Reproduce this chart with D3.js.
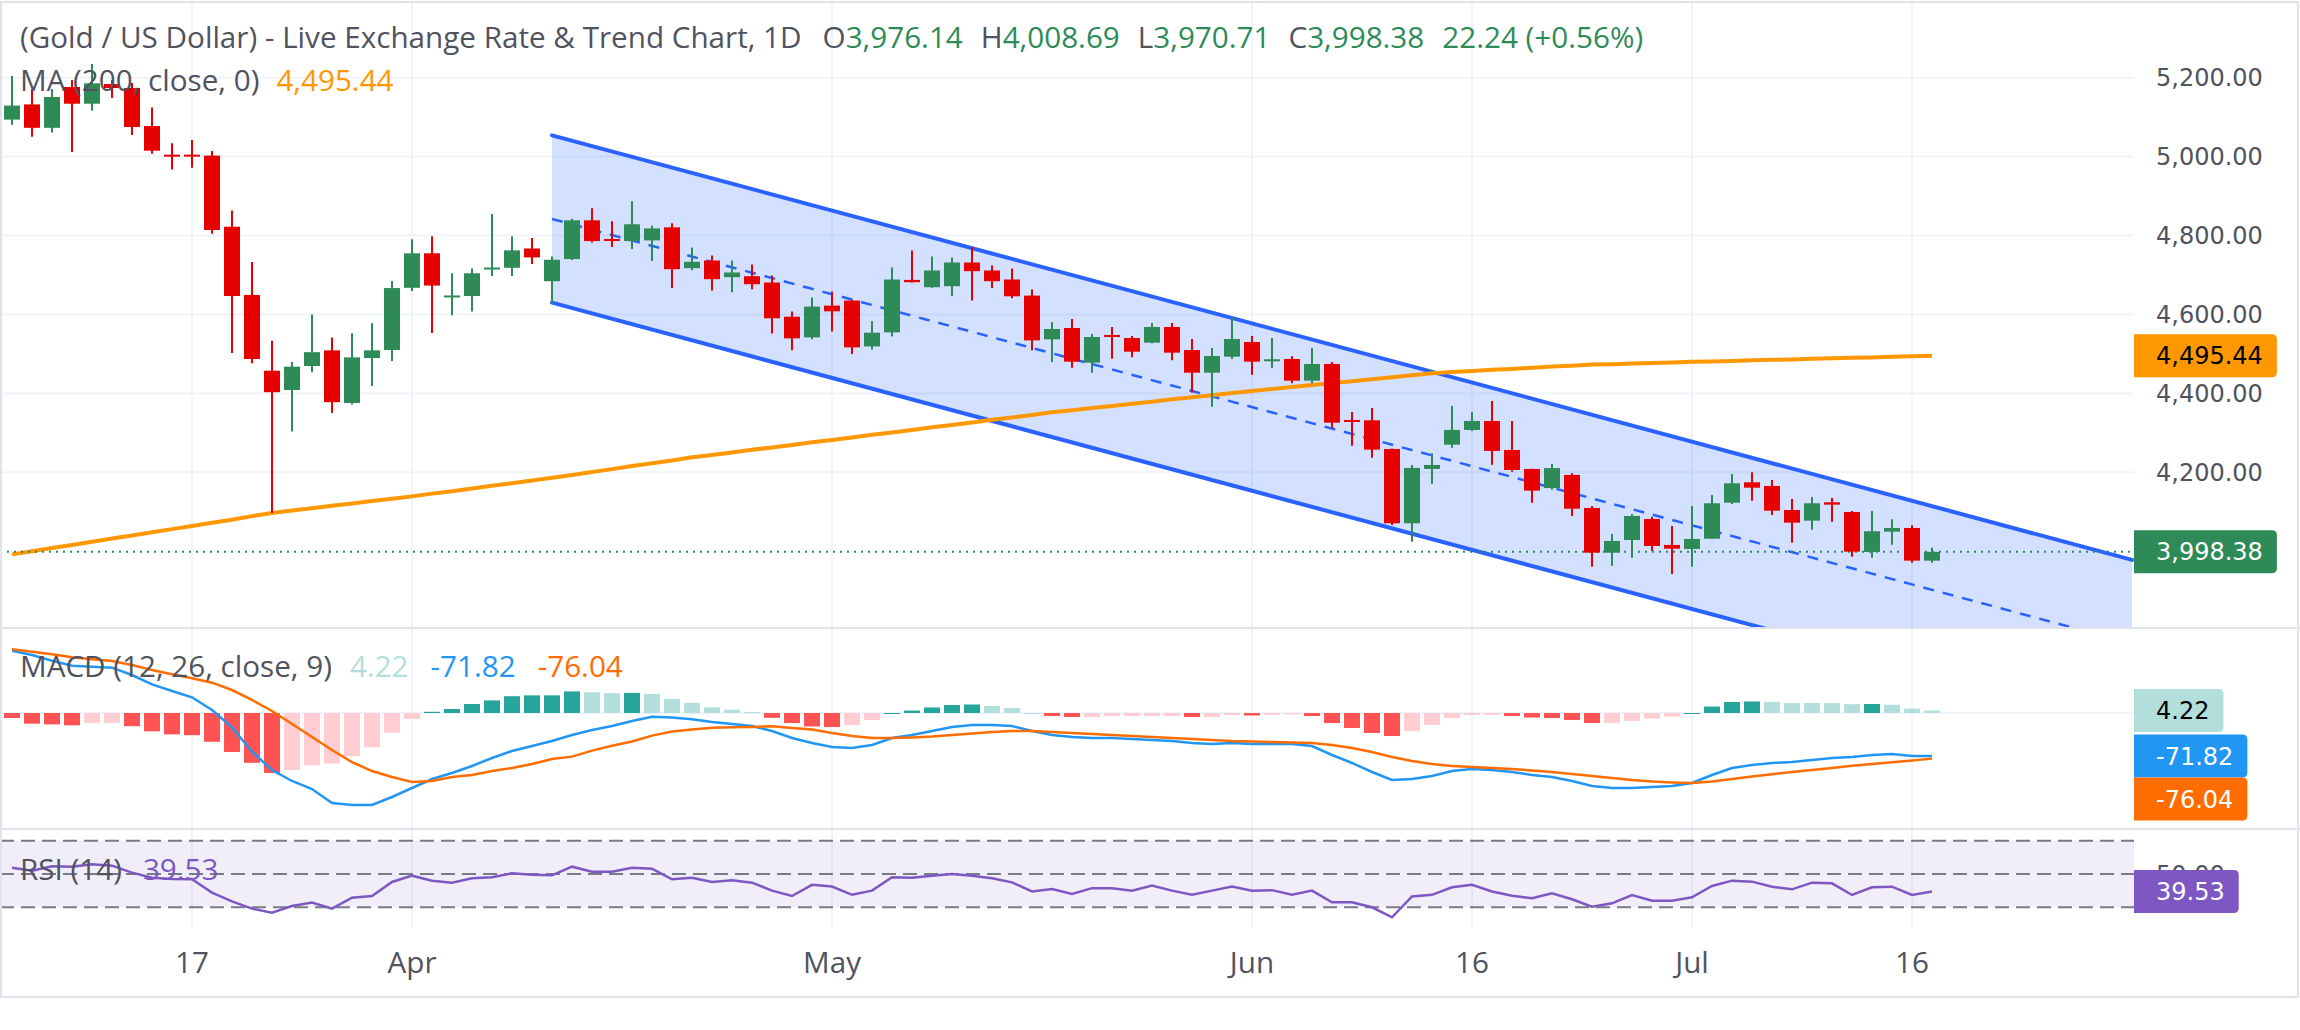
<!DOCTYPE html>
<html lang="en">
<head>
<meta charset="UTF-8">
<title>Gold / US Dollar - Daily</title>
<style>
  body { margin: 0; background: #fff; }
  svg { display: block; }
  .legend { font-family: "Open Sans", sans-serif; fill: #50535e; }
  .axis-label { font-family: "DejaVu Sans", sans-serif; font-size: 24px; fill: #50535e; }
  .time-label { font-family: "Open Sans", sans-serif; fill: #50535e; }
</style>
</head>
<body>
<svg id="chart"></svg>
<script src="https://cdn.jsdelivr.net/npm/d3@7"></script>
<script>
// ---- data ----
const dates = [
  "2026-03-04","2026-03-05","2026-03-06","2026-03-09","2026-03-10","2026-03-11","2026-03-12","2026-03-13","2026-03-16","2026-03-17",
  "2026-03-18","2026-03-19","2026-03-20","2026-03-23","2026-03-24","2026-03-25","2026-03-26","2026-03-27","2026-03-30","2026-03-31",
  "2026-04-01","2026-04-02","2026-04-06","2026-04-07","2026-04-08","2026-04-09","2026-04-10","2026-04-13","2026-04-14","2026-04-15",
  "2026-04-16","2026-04-17","2026-04-20","2026-04-21","2026-04-22","2026-04-23","2026-04-24","2026-04-27","2026-04-28","2026-04-29",
  "2026-04-30","2026-05-01","2026-05-04","2026-05-05","2026-05-06","2026-05-07","2026-05-08","2026-05-11","2026-05-12","2026-05-13",
  "2026-05-14","2026-05-15","2026-05-18","2026-05-19","2026-05-20","2026-05-21","2026-05-22","2026-05-25","2026-05-26","2026-05-27",
  "2026-05-28","2026-05-29","2026-06-01","2026-06-02","2026-06-03","2026-06-04","2026-06-05","2026-06-08","2026-06-09","2026-06-10",
  "2026-06-11","2026-06-12","2026-06-15","2026-06-16","2026-06-17","2026-06-18","2026-06-19","2026-06-22","2026-06-23","2026-06-24",
  "2026-06-25","2026-06-26","2026-06-29","2026-06-30","2026-07-01","2026-07-02","2026-07-03","2026-07-06","2026-07-07","2026-07-08",
  "2026-07-09","2026-07-10","2026-07-13","2026-07-14","2026-07-15","2026-07-16","2026-07-17"
];
const open = [
  5093.8, 5132.3, 5073.0, 5176.4, 5134.1, 5184.0, 5173.9, 5077.6, 5005.0, 5005.0,
  5002.6, 4822.4, 4649.4, 4457.5, 4408.6, 4469.5, 4509.0, 4375.7, 4489.5, 4510.0,
  4667.6, 4755.0, 4645.6, 4646.8, 4715.3, 4718.3, 4767.2, 4684.3, 4740.3, 4838.6,
  4791.3, 4785.9, 4787.7, 4820.7, 4717.3, 4736.8, 4694.5, 4697.0, 4681.0, 4594.3,
  4541.9, 4622.5, 4635.2, 4519.1, 4554.6, 4687.6, 4669.1, 4671.7, 4731.7, 4711.4,
  4688.6, 4647.8, 4536.9, 4565.7, 4477.8, 4548.0, 4540.4, 4528.5, 4568.3, 4510.0,
  4452.5, 4493.0, 4530.3, 4482.9, 4487.2, 4432.2, 4474.5, 4332.6, 4331.8, 4259.1,
  4070.8, 4208.5, 4270.0, 4307.3, 4330.1, 4256.6, 4208.5, 4160.0, 4193.3, 4109.6,
  3996.3, 4028.5, 4081.7, 4015.9, 4005.7, 4031.8, 4123.0, 4174.7, 4165.4, 4104.5,
  4077.5, 4124.0, 4099.5, 3998.1, 4049.6, 4058.9, 3976.14
];
const high = [
  5204.6, 5171.4, 5171.4, 5194.2, 5234.7, 5194.2, 5186.6, 5124.7, 5033.8, 5042.1,
  5014.3, 4863.7, 4733.0, 4533.6, 4479.8, 4600.2, 4541.9, 4552.3, 4577.6, 4684.8,
  4790.5, 4798.1, 4704.4, 4716.5, 4854.6, 4798.1, 4793.8, 4746.9, 4842.7, 4869.1,
  4836.1, 4886.8, 4825.0, 4831.1, 4770.0, 4749.5, 4736.8, 4726.6, 4698.8, 4607.3,
  4642.8, 4658.0, 4637.0, 4583.5, 4719.0, 4762.4, 4746.9, 4744.4, 4770.7, 4724.0,
  4716.5, 4663.0, 4581.0, 4588.5, 4550.5, 4568.3, 4545.5, 4578.4, 4578.4, 4537.9,
  4515.1, 4594.4, 4545.5, 4540.4, 4494.0, 4515.1, 4479.6, 4352.9, 4363.0, 4260.0,
  4218.6, 4248.3, 4368.0, 4352.9, 4380.8, 4330.1, 4209.0, 4221.0, 4197.5, 4114.7,
  4043.7, 4094.4, 4087.6, 4064.0, 4114.7, 4142.6, 4195.8, 4200.1, 4180.6, 4132.4,
  4137.5, 4135.0, 4102.0, 4102.0, 4081.0, 4065.8, 4008.69
];
const low = [
  5080.7, 5050.5, 5060.9, 5012.0, 5117.1, 5148.6, 5054.8, 5007.4, 4967.1, 4971.7,
  4804.7, 4502.4, 4476.3, 4097.0, 4303.5, 4453.8, 4350.4, 4372.1, 4418.8, 4482.1,
  4659.5, 4553.0, 4598.2, 4607.6, 4697.5, 4697.5, 4727.9, 4628.3, 4738.0, 4782.6,
  4770.7, 4765.7, 4735.3, 4666.8, 4712.2, 4660.7, 4656.6, 4664.0, 4552.0, 4509.0,
  4536.9, 4557.0, 4499.6, 4511.5, 4544.4, 4681.0, 4668.0, 4646.1, 4635.2, 4666.8,
  4641.0, 4509.0, 4479.3, 4465.0, 4452.5, 4488.0, 4491.5, 4527.0, 4483.9, 4401.8,
  4366.3, 4487.2, 4447.4, 4463.6, 4425.6, 4425.6, 4311.6, 4267.5, 4237.1, 4066.5,
  4024.0, 4171.2, 4262.4, 4304.7, 4219.3, 4201.6, 4123.0, 4155.7, 4089.4, 3960.9,
  3963.4, 3983.7, 4000.6, 3942.4, 3960.9, 4031.0, 4119.8, 4128.1, 4091.9, 4021.7,
  4054.6, 4075.0, 3986.0, 3983.7, 4016.6, 3971.0, 3970.71
];
const close = [
  5129.3, 5073.0, 5151.1, 5134.1, 5185.8, 5173.9, 5075.1, 5015.0, 5003.0, 5002.0,
  4814.1, 4646.8, 4487.2, 4403.0, 4467.7, 4504.4, 4377.7, 4491.2, 4509.0, 4666.9,
  4755.0, 4673.2, 4648.1, 4704.4, 4719.0, 4762.4, 4744.6, 4738.6, 4838.6, 4785.9,
  4788.7, 4828.5, 4818.1, 4714.7, 4733.5, 4689.4, 4706.4, 4676.7, 4590.3, 4539.4,
  4620.0, 4608.0, 4516.6, 4553.8, 4688.6, 4681.8, 4711.4, 4731.7, 4709.7, 4684.3,
  4646.1, 4534.3, 4563.2, 4480.3, 4542.9, 4545.0, 4505.7, 4568.3, 4503.2, 4452.5,
  4494.8, 4537.9, 4480.3, 4486.4, 4432.2, 4474.5, 4325.8, 4330.0, 4257.4, 4070.8,
  4211.0, 4218.6, 4307.3, 4330.1, 4254.1, 4205.9, 4153.5, 4210.7, 4107.8, 3996.3,
  4026.0, 4089.3, 4013.3, 4006.4, 4031.1, 4121.5, 4172.2, 4161.0, 4102.8, 4072.4,
  4121.5, 4118.0, 3998.9, 4050.6, 4058.9, 3976.14, 3998.38
];
const ma200 = [
  3992, 4000, 4008, 4016, 4024, 4032, 4040, 4048, 4056, 4064,
  4072, 4080, 4089, 4097, 4103, 4109, 4115, 4121, 4127, 4133,
  4139, 4146, 4152, 4159, 4166, 4172, 4179, 4186, 4193, 4201,
  4208, 4216, 4223, 4230, 4238, 4244, 4250, 4257, 4263, 4269,
  4276, 4282, 4288, 4295, 4301, 4307, 4314, 4320, 4326, 4333,
  4339, 4345, 4352, 4357, 4363, 4368, 4374, 4379, 4385, 4390,
  4395, 4401, 4406, 4411, 4416, 4421, 4426, 4431, 4436, 4441,
  4446, 4451, 4454, 4457, 4460, 4462, 4465, 4468, 4470, 4473,
  4474, 4476, 4477, 4478, 4480, 4481, 4482, 4484, 4485, 4486,
  4488, 4489, 4490, 4491, 4493, 4494, 4495.44
];
const macdLine = [
  103.8, 96.7, 87.2, 78.8, 77.2, 75.5, 63.3, 47.8, 36.7, 26.2,
  5.0, -24.0, -64.5, -95.0, -113.3, -126.7, -150.0, -153.3, -153.3, -140.0,
  -125.0, -110.0, -100.0, -88.3, -75.0, -63.3, -55.0, -46.7, -36.7, -28.3,
  -21.7, -13.3, -6.2, -7.5, -10.5, -15.0, -18.3, -21.7, -30.0, -41.7,
  -50.0, -56.7, -58.3, -53.3, -41.7, -36.7, -30.0, -23.3, -20.0, -20.0,
  -21.7, -30.0, -36.7, -40.0, -41.7, -41.7, -43.3, -45.0, -46.7, -50.0,
  -51.7, -50.0, -51.7, -51.7, -51.7, -55.0, -70.0, -83.3, -98.3, -111.7,
  -110.0, -105.0, -96.7, -93.3, -95.0, -98.3, -103.3, -106.7, -113.3, -121.7,
  -125.0, -125.0, -123.3, -121.7, -116.7, -103.3, -91.7, -86.7, -83.3, -81.7,
  -78.3, -75.0, -73.3, -70.0, -68.3, -71.7, -71.82
];
const signalLine = [
  106.2, 102.2, 97.8, 92.8, 89.5, 86.7, 80.0, 71.7, 64.5, 57.8,
  50.5, 38.3, 21.7, 3.3, -18.3, -40.0, -61.7, -81.7, -96.7, -106.7,
  -115.0, -113.3, -106.7, -103.3, -96.7, -91.7, -85.0, -76.7, -72.7, -62.7,
  -54.7, -47.5, -37.7, -31.0, -27.5, -24.5, -23.8, -23.2, -22.0, -25.0,
  -27.5, -33.3, -38.3, -41.7, -41.7, -40.8, -39.2, -36.7, -34.2, -31.7,
  -30.0, -30.0, -31.7, -33.3, -35.0, -36.7, -38.3, -40.0, -41.7, -43.3,
  -45.0, -46.7, -47.5, -48.3, -49.2, -50.0, -53.3, -58.3, -65.0, -73.3,
  -80.0, -85.0, -88.3, -90.0, -91.7, -93.3, -95.8, -98.3, -101.7, -105.0,
  -108.3, -111.7, -114.2, -115.8, -116.7, -114.0, -110.0, -106.0, -102.0, -98.5,
  -95.0, -91.5, -88.0, -85.0, -82.0, -79.0, -76.04
];
const macdHist = [
  -8.3, -17.8, -19.0, -20.5, -16.7, -16.7, -22.0, -30.6, -35.6, -37.0,
  -48.0, -65.0, -83.0, -100.0, -95.0, -87.0, -84.0, -72.0, -57.0, -33.0,
  -10.0, 2.0, 6.7, 15.0, 21.0, 28.0, 29.4, 29.4, 36.0, 34.4,
  33.0, 33.6, 31.5, 23.5, 17.0, 9.5, 5.5, 1.5, -8.0, -16.7,
  -22.5, -23.4, -20.0, -11.6, 0.0, 4.1, 9.2, 13.4, 14.2, 11.7,
  8.3, 0.0, -5.0, -6.7, -6.7, -5.0, -5.0, -5.0, -5.0, -6.7,
  -6.7, -3.3, -4.2, -3.4, -2.5, -5.0, -16.7, -25.0, -33.3, -38.4,
  -30.0, -20.0, -8.4, -3.3, -3.3, -5.0, -7.5, -8.4, -11.6, -16.7,
  -16.7, -13.3, -9.1, -5.9, 0.0, 10.7, 18.3, 19.3, 18.7, 16.8,
  16.7, 16.5, 14.7, 15.0, 13.7, 7.3, 4.22
];
const rsi14 = [
  53.8, 52.0, 54.6, 54.4, 55.8, 55.0, 50.8, 47.8, 47.0, 46.8,
  38.8, 33.6, 29.2, 26.8, 30.8, 32.8, 29.2, 35.8, 36.8, 45.2,
  49.0, 46.0, 44.8, 47.4, 48.0, 50.4, 49.6, 49.2, 54.4, 51.4,
  51.4, 53.8, 53.2, 46.8, 47.8, 45.2, 46.2, 44.8, 40.0, 36.8,
  43.5, 42.5, 37.5, 40.0, 48.0, 47.8, 49.0, 50.0, 49.0, 47.5,
  45.0, 39.5, 41.0, 38.0, 41.5, 41.5, 40.0, 43.0, 40.0, 37.5,
  40.0, 42.5, 40.0, 40.3, 37.5, 40.0, 33.0, 33.0, 30.0, 24.0,
  36.5, 37.5, 42.0, 43.5, 39.5, 37.0, 35.4, 38.4, 34.8, 30.4,
  32.4, 37.4, 34.0, 34.0, 36.0, 42.8, 46.0, 45.4, 42.4, 40.8,
  44.8, 44.4, 37.4, 42.0, 42.4, 37.4, 39.53
];
// descending channel: bar index of its two anchors, upper and lower edge prices
const channelAt = [27, 106];
const channelUpper = [5054, 3978];
const channelLower = [4630, 3554];
const priceTicks = [4200, 4400, 4600, 4800, 5000, 5200];
const tickDates = ["2026-03-17", "2026-04-01", "2026-05-01", "2026-06-01", "2026-06-16", "2026-07-01", "2026-07-16"];
const tickLabels = ["17", "Apr", "May", "Jun", "16", "Jul", "16"];

// ---- layout ----
const W = 2300, H = 1030;
const AXIS_X = 2134;
const main = {top: 2, bottom: 627};
const macdPane = {top: 629, bottom: 828};
const rsiPane = {top: 830, bottom: 928};
const UP = "#2e8b57", DOWN = "#e60000";
const GRID = "#f0f3fa", BORDER = "#e0e3eb";

const svg = d3.select("#chart").attr("width", W).attr("height", H);

const x = d3.scaleLinear().domain([0, 96]).range([12, 1932]);
const yMain = d3.scaleLinear().domain([4200, 5200]).range([472.3, 77.7]);
const yMacd = d3.scaleLinear().domain([0, -100]).range([713, 773]);
const yRsi = d3.scaleLinear().domain([30, 70]).range([907.3, 840.7]);
const fmt = d3.format(",.2f");
const idx = d => dates.indexOf(d);
const last = dates.length - 1;

const defs = svg.append("defs");
[["clip-main", main], ["clip-macd", macdPane], ["clip-rsi", rsiPane]].forEach(([id, p]) => {
  defs.append("clipPath").attr("id", id).append("rect")
    .attr("x", 0).attr("y", p.top).attr("width", AXIS_X).attr("height", p.bottom - p.top);
});

// ---- grid ----
const grid = svg.append("g");
grid.selectAll("line.v").data(tickDates).join("line")
  .attr("x1", d => x(idx(d))).attr("x2", d => x(idx(d)))
  .attr("y1", main.top).attr("y2", rsiPane.bottom)
  .attr("stroke", GRID).attr("stroke-width", 2);
grid.selectAll("line.h").data(priceTicks).join("line")
  .attr("x1", 0).attr("x2", AXIS_X)
  .attr("y1", d => yMain(d)).attr("y2", d => yMain(d))
  .attr("stroke", GRID).attr("stroke-width", 2);
grid.append("line").attr("x1", 0).attr("x2", AXIS_X)
  .attr("y1", yMacd(0)).attr("y2", yMacd(0))
  .attr("stroke", GRID).attr("stroke-width", 2);

// ---- main pane ----
const gMain = svg.append("g").attr("clip-path", "url(#clip-main)");

const chPts = channelAt.map((b, k) => ({x: x(b), up: yMain(channelUpper[k]), lo: yMain(channelLower[k])}));
gMain.append("path")
  .attr("d", `M${chPts[0].x},${chPts[0].up}L${chPts[1].x},${chPts[1].up}L${chPts[1].x},${chPts[1].lo}L${chPts[0].x},${chPts[0].lo}Z`)
  .attr("fill", "rgba(41,98,255,0.2)");
gMain.append("line")
  .attr("x1", chPts[0].x).attr("y1", (chPts[0].up + chPts[0].lo) / 2)
  .attr("x2", chPts[1].x).attr("y2", (chPts[1].up + chPts[1].lo) / 2)
  .attr("stroke", "#2962ff").attr("stroke-width", 2.5).attr("stroke-dasharray", "11,9");
["up", "lo"].forEach(k => {
  gMain.append("line")
    .attr("x1", chPts[0].x).attr("y1", chPts[0][k])
    .attr("x2", chPts[1].x).attr("y2", chPts[1][k])
    .attr("stroke", "#2962ff").attr("stroke-width", 4).attr("stroke-linecap", "round");
});

gMain.append("path").datum(ma200)
  .attr("d", d3.line().x((d, i) => x(i)).y(d => yMain(d)))
  .attr("fill", "none").attr("stroke", "#ff9800").attr("stroke-width", 4);

gMain.append("line")
  .attr("x1", 0).attr("x2", AXIS_X)
  .attr("y1", yMain(close[last])).attr("y2", yMain(close[last]))
  .attr("stroke", UP).attr("stroke-width", 2).attr("stroke-dasharray", "2,5");

const candles = dates.map((d, i) => ({i, o: open[i], h: high[i], l: low[i], c: close[i]}));
const col = d => d.c >= d.o ? UP : DOWN;
gMain.selectAll("line.wick").data(candles).join("line")
  .attr("x1", d => x(d.i)).attr("x2", d => x(d.i))
  .attr("y1", d => yMain(d.h)).attr("y2", d => yMain(d.l))
  .attr("stroke", col).attr("stroke-width", 2);
gMain.selectAll("rect.body").data(candles).join("rect")
  .attr("x", d => x(d.i) - 8).attr("width", 16)
  .attr("y", d => yMain(Math.max(d.o, d.c)))
  .attr("height", d => Math.max(2, Math.abs(yMain(d.o) - yMain(d.c))))
  .attr("fill", col);

// ---- MACD pane ----
const gMacd = svg.append("g").attr("clip-path", "url(#clip-macd)");
const histColor = (v, i) => {
  const prev = i > 0 ? macdHist[i - 1] : 0;
  if (v >= 0) return v >= prev ? "#26a69a" : "#b2dfdb";
  return v < prev ? "#ff5252" : "#ffcdd2";
};
gMacd.selectAll("rect").data(macdHist).join("rect")
  .attr("x", (d, i) => x(i) - 8).attr("width", 16)
  .attr("y", d => Math.min(yMacd(d), yMacd(0)))
  .attr("height", d => Math.max(1, Math.abs(yMacd(d) - yMacd(0))))
  .attr("fill", histColor);
[[macdLine, "#2196f3"], [signalLine, "#ff6d00"]].forEach(([arr, c]) => {
  gMacd.append("path").datum(arr)
    .attr("d", d3.line().x((d, i) => x(i)).y(d => yMacd(d)))
    .attr("fill", "none").attr("stroke", c).attr("stroke-width", 2.5);
});

// ---- RSI pane ----
const gRsi = svg.append("g").attr("clip-path", "url(#clip-rsi)");
gRsi.append("rect").attr("x", 0).attr("width", AXIS_X)
  .attr("y", yRsi(70)).attr("height", yRsi(30) - yRsi(70))
  .attr("fill", "rgba(126,87,194,0.1)");
gRsi.selectAll("line").data([70, 50, 30]).join("line")
  .attr("x1", 0).attr("x2", AXIS_X)
  .attr("y1", d => yRsi(d)).attr("y2", d => yRsi(d))
  .attr("stroke", "#787b86").attr("stroke-width", 2).attr("stroke-dasharray", "14,7");
gRsi.append("path").datum(rsi14)
  .attr("d", d3.line().x((d, i) => x(i)).y(d => yRsi(d)))
  .attr("fill", "none").attr("stroke", "#7e57c2").attr("stroke-width", 2.5);

// ---- frame and pane separators ----
svg.append("rect").attr("x", 1).attr("y", 2).attr("width", W - 3).attr("height", 995)
  .attr("fill", "none").attr("stroke", BORDER).attr("stroke-width", 2);
[main.bottom + 1, macdPane.bottom + 1].forEach(y => {
  svg.append("line").attr("x1", 0).attr("x2", W).attr("y1", y).attr("y2", y)
    .attr("stroke", BORDER).attr("stroke-width", 2);
});

// ---- price axis ----
const axis = svg.append("g");
axis.selectAll("text").data(priceTicks).join("text")
  .attr("class", "axis-label")
  .attr("x", AXIS_X + 22).attr("y", d => yMain(d)).attr("dy", "0.36em")
  .text(d => fmt(d));
axis.append("text").attr("class", "axis-label")
  .attr("x", AXIS_X + 22).attr("y", yRsi(50)).attr("dy", "0.36em").text("50.00");

function valueBox(y, label, fill, color) {
  const g = svg.append("g");
  const t = g.append("text").attr("class", "axis-label")
    .attr("x", AXIS_X + 22).attr("y", y).attr("dy", "0.36em")
    .style("fill", color).text(label);
  const w = t.node().getComputedTextLength() + 22 + 14;
  const h = 43, r = 5, top = y - h / 2;
  g.insert("path", "text")
    .attr("d", `M${AXIS_X},${top}H${AXIS_X + w - r}Q${AXIS_X + w},${top} ${AXIS_X + w},${top + r}` +
      `V${top + h - r}Q${AXIS_X + w},${top + h} ${AXIS_X + w - r},${top + h}H${AXIS_X}Z`)
    .attr("fill", fill);
}
valueBox(yMain(ma200[last]), fmt(ma200[last]), "#ff9800", "#000");
valueBox(yMain(close[last]), fmt(close[last]), UP, "#fff");

// MACD labels are stacked so they do not overlap
const macdBoxes = [
  {v: macdHist[last], fill: "#b2dfdb", color: "#000"},
  {v: macdLine[last], fill: "#2196f3", color: "#fff"},
  {v: signalLine[last], fill: "#ff6d00", color: "#fff"}
].map(b => ({...b, y: yMacd(b.v)})).sort((a, b) => a.y - b.y);
for (let k = 1; k < macdBoxes.length; k++) {
  macdBoxes[k].y = Math.max(macdBoxes[k].y, macdBoxes[k - 1].y + 43);
}
macdBoxes.forEach(b => valueBox(b.y, b.v.toFixed(2), b.fill, b.color));
valueBox(yRsi(rsi14[last]), rsi14[last].toFixed(2), "#7e57c2", "#fff");

// ---- time axis ----
const timeAxis = svg.append("g");
timeAxis.selectAll("text").data(tickDates).join("text")
  .attr("class", "time-label")
  .attr("x", d => x(idx(d))).attr("y", 973)
  .attr("text-anchor", "middle")
  .text((d, k) => tickLabels[k]);

// ---- legends ----
const legend = svg.append("g").attr("class", "legend");
function legendLine(y, parts) {
  const t = legend.append("text").attr("x", 20).attr("y", y);
  parts.forEach(([txt, color, dx]) => {
    t.append("tspan").attr("dx", dx || 0).style("fill", color || null).text(txt);
  });
  return t;
}
const chg = close[last] - close[last - 1];
const pct = chg / close[last - 1] * 100;
const title = legendLine(48, [
  ["(Gold / US Dollar) - Live Exchange Rate & Trend Chart, 1D"],
  ["O", null, 21], [fmt(open[last]), UP],
  ["H", null, 18], [fmt(high[last]), UP],
  ["L", null, 18], [fmt(low[last]), UP],
  ["C", null, 18], [fmt(close[last]), UP],
  [`${chg.toFixed(2)} (${chg >= 0 ? "+" : ""}${pct.toFixed(2)}%)`, UP, 18]
]);
legendLine(91, [["MA (200, close, 0)"], [fmt(ma200[last]), "#ff9800", 17]]);
legendLine(677, [
  ["MACD (12, 26, close, 9)"],
  [macdHist[last].toFixed(2), "#b2dfdb", 18],
  [macdLine[last].toFixed(2), "#2196f3", 22],
  [signalLine[last].toFixed(2), "#ff6d00", 22]
]);
legendLine(880, [["RSI (14)"], [rsi14[last].toFixed(2), "#7e57c2", 21]]);

// fit legend font so the title spans the same width as the original
legend.style("font-size", "24px");
const titleW = title.select("tspan").node().getComputedTextLength();
const fs = 24 * 782 / titleW;
legend.style("font-size", fs + "px");
timeAxis.style("font-size", fs + "px");
</script>
</body>
</html>
